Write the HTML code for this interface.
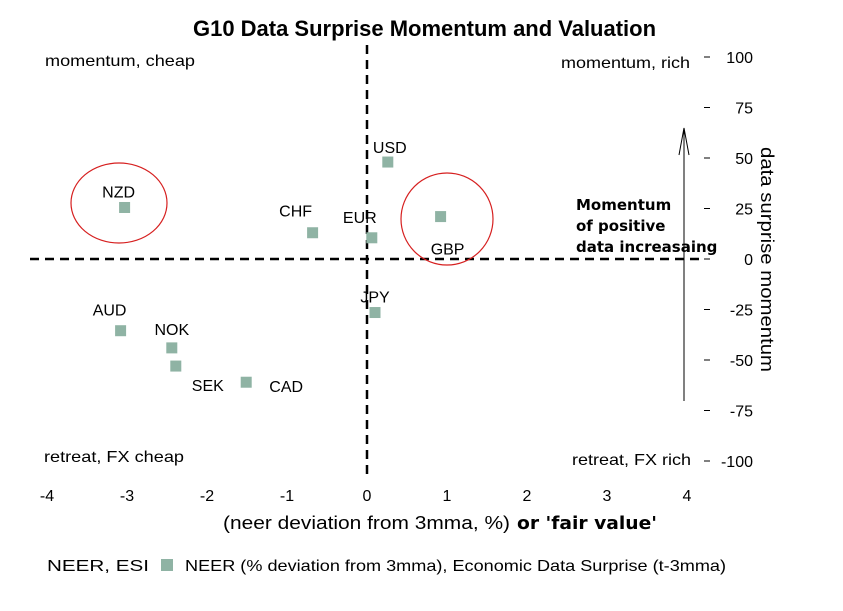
<!DOCTYPE html>
<html><head><meta charset="utf-8"><style>
body{margin:0;background:#fff;}
svg{display:block;font-family:"Liberation Sans",sans-serif;}
</style></head><body>
<svg id="chart" width="843" height="611">
<text x="193" y="36" font-size="22" font-weight="bold" textLength="463" lengthAdjust="spacingAndGlyphs">G10 Data Surprise Momentum and Valuation</text>
<g id="corner" font-size="16">
<text x="45" y="66" textLength="150" lengthAdjust="spacingAndGlyphs">momentum, cheap</text>
<text x="561" y="68" textLength="129" lengthAdjust="spacingAndGlyphs">momentum, rich</text>
<text x="44" y="462" textLength="140" lengthAdjust="spacingAndGlyphs">retreat, FX cheap</text>
<text x="572" y="465" textLength="119" lengthAdjust="spacingAndGlyphs">retreat, FX rich</text>
</g>
<g id="axes"></g>
<g id="points"></g>
<ellipse cx="119" cy="203" rx="48" ry="40" fill="none" stroke="#d62020" stroke-width="1.2"/>
<ellipse cx="447" cy="219" rx="46" ry="46" fill="none" stroke="#d62020" stroke-width="1.2"/>
<line x1="684" y1="401" x2="684" y2="128" stroke="#000" stroke-width="1"/>
<path d="M679,155 L684,128 L689,155" fill="none" stroke="#000" stroke-width="1"/>
<g font-size="15" font-weight="bold" font-family="'DejaVu Sans',sans-serif">
<text x="576" y="210">Momentum</text>
<text x="576" y="231">of positive</text>
<text x="576" y="252">data increasaing</text>
</g>
<text transform="translate(761,259) rotate(90)" x="-112" font-size="18" textLength="225" lengthAdjust="spacingAndGlyphs">data surprise momentum</text>
<text x="223" y="529" font-size="18" textLength="287" lengthAdjust="spacingAndGlyphs">(neer deviation from 3mma, %)</text>
<text x="517" y="529" font-size="18" font-weight="bold" font-family="'DejaVu Sans',sans-serif" textLength="140" lengthAdjust="spacingAndGlyphs">or 'fair value'</text>
<g>
<text x="47" y="571" font-size="16" textLength="102" lengthAdjust="spacingAndGlyphs">NEER, ESI</text>
<rect x="161" y="559" width="12" height="12" fill="#8fb3a4"/>
<text x="185" y="571" font-size="16" textLength="541" lengthAdjust="spacingAndGlyphs">NEER (% deviation from 3mma), Economic Data Surprise (t-3mma)</text>
</g>
</svg>
<script>
const labels=["NZD","CHF","USD","EUR","GBP","JPY","AUD","NOK","SEK","CAD"];
const xVals=[-3.03,-0.68,0.26,0.06,0.92,0.1,-3.08,-2.44,-2.39,-1.51];
const yVals=[25.5,13,48,10.5,21,-26.5,-35.5,-44,-53,-61];
const xTicks=[-4,-3,-2,-1,0,1,2,3,4];
const yTicks=[100,75,50,25,0,-25,-50,-75,-100];
const labelDx=[-6,-17,2,-12,7,0,-11,0,32,40];
const labelDy=[-15,-21,-14,-20,33,-15,-20,-18,20,5];
const NS="http://www.w3.org/2000/svg";
const sx=v=>367+v*80, sy=v=>259-v*2.02;
const ax=document.getElementById('axes'), pts=document.getElementById('points');
function mk(t,a,p){const e=document.createElementNS(NS,t);for(const k in a)e.setAttribute(k,a[k]);p.appendChild(e);return e;}
let z=mk('line',{x1:30,y1:sy(0),x2:700,y2:sy(0),stroke:'#000','stroke-width':2.5,'stroke-dasharray':'9,6'},ax);


z=mk('line',{x1:sx(0),y1:45,x2:sx(0),y2:478,stroke:'#000','stroke-width':2.5,'stroke-dasharray':'9,6'},ax);


xTicks.forEach(v=>{
 const t=mk('text',{x:sx(v),y:501,'text-anchor':'middle','font-size':16},ax);t.textContent=v;
 
 
});
yTicks.forEach(v=>{
 const l=mk('line',{x1:704,y1:sy(v),x2:710,y2:sy(v),stroke:'#000'},ax);
 
 
 const t=mk('text',{x:753,y:sy(v)+6,'text-anchor':'end','font-size':16},ax);t.textContent=v;
 
 
});
labels.forEach((n,i)=>{
 const r=mk('rect',{x:sx(xVals[i])-5.5,y:sy(yVals[i])-5.5,width:11,height:11,fill:'#8fb3a4'},pts);
 
 
 const t=mk('text',{x:sx(xVals[i])+labelDx[i],y:sy(yVals[i])+labelDy[i]+5,'text-anchor':'middle','font-size':16},pts);t.textContent=n;
 
 
});
</script>
</body></html>
